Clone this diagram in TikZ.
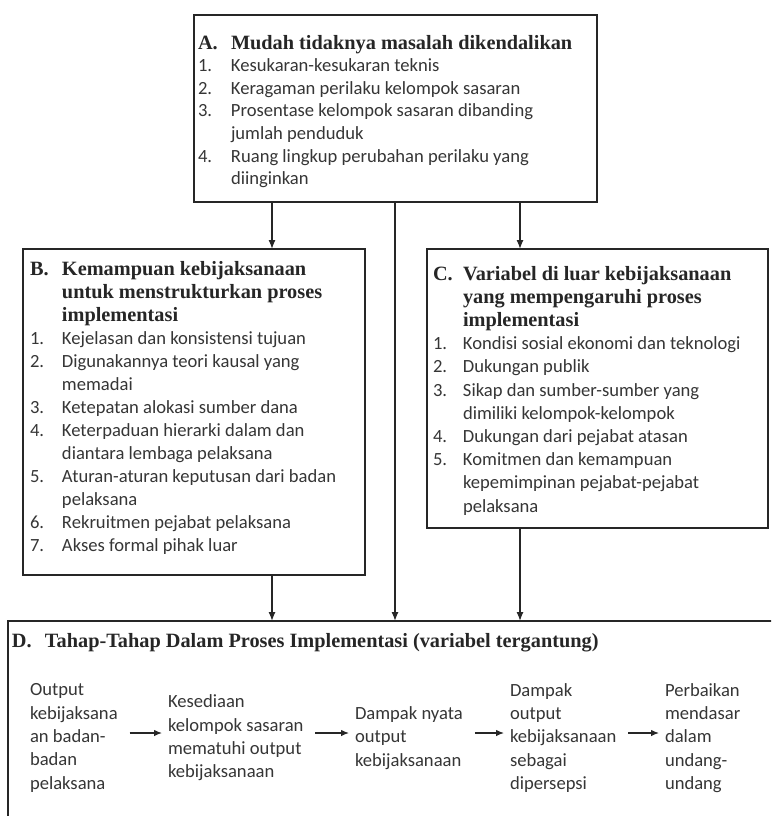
\documentclass[tikz,border=0pt]{standalone}
\usepackage{fontspec}
\setmainfont{Carlito}
\newfontfamily\serifbf{Liberation Serif}
\usetikzlibrary{arrows.meta,calc}
\definecolor{ink}{HTML}{262626}
\definecolor{txt}{HTML}{363636}
\newcommand\ttl{\serifbf\bfseries\fontsize{20.3}{23}\selectfont\color{ink}}
\newlength\numw
\newcommand\nm[1]{\makebox[\numw][l]{#1}}
\tikzset{
  box/.style={draw=ink, line width=1.3pt, inner sep=0pt, outer sep=0pt, anchor=north west},
  txtnode/.style={inner sep=0pt, outer sep=0pt, text=txt, anchor=base west},
  col/.style={inner sep=0pt, outer sep=0pt, text=txt, anchor=west, align=left,
    font=\fontsize{18.6}{23.3}\selectfont},
  arr/.style={draw=ink, line width=1.3pt, -{Latex[length=9pt,width=7pt]}},
  harr/.style={draw=ink, line width=1.2pt, -{Latex[length=8pt,width=6.5pt]},
    shorten <=12pt, shorten >=6pt}
}
\begin{document}
\begin{tikzpicture}[x=1pt,y=-1pt]
\useasboundingbox[fill=white] (0,0) rectangle (771,816);
\clip (0,0) rectangle (771,816);

% boxes
\node[box, minimum width=403pt, minimum height=187pt] (A) at (194,15) {};
\node[box, minimum width=342pt, minimum height=326pt] (B) at (23,249) {};
\node[box, minimum width=341pt, minimum height=279pt] (C) at (427,249) {};
\node[box, minimum width=900pt, minimum height=300pt] (D) at (8,621) {};

% box A text
\node[txtnode, font=\fontsize{18.6}{22.6}\selectfont] (At) at (198,49) {%
\setlength\numw{33pt}%
\begin{tabular}[t]{@{}l@{}l@{}}
\nm{\ttl A.} & \ttl Mudah tidaknya masalah dikendalikan\\
\nm{1.} & Kesukaran-kesukaran teknis\\
\nm{2.} & Keragaman perilaku kelompok sasaran\\
\nm{3.} & Prosentase kelompok sasaran dibanding\\
        & jumlah penduduk\\
\nm{4.} & Ruang lingkup perubahan perilaku yang\\
        & diinginkan
\end{tabular}};

% box B text
\node[txtnode, font=\fontsize{18.6}{23}\selectfont] (Bt) at (30,275) {%
\setlength\numw{32pt}%
\begin{tabular}[t]{@{}l@{}l@{}}
\nm{\ttl B.} & \ttl Kemampuan kebijaksanaan\\
             & \ttl untuk menstrukturkan proses\\
             & \ttl implementasi\\
\nm{1.} & Kejelasan dan konsistensi tujuan\\
\nm{2.} & Digunakannya teori kausal yang\\
        & memadai\\
\nm{3.} & Ketepatan alokasi sumber dana\\
\nm{4.} & Keterpaduan hierarki dalam dan\\
        & diantara lembaga pelaksana\\
\nm{5.} & Aturan-aturan keputusan dari badan\\
        & pelaksana\\
\nm{6.} & Rekruitmen pejabat pelaksana\\
\nm{7.} & Akses formal pihak luar
\end{tabular}};

% box C text
\node[txtnode, font=\fontsize{18.6}{23.2}\selectfont] (Ct) at (433,280) {%
\setlength\numw{30pt}%
\begin{tabular}[t]{@{}l@{}l@{}}
\nm{\ttl C.} & \ttl Variabel di luar kebijaksanaan\\
             & \ttl yang mempengaruhi proses\\
             & \ttl implementasi\\
\nm{1.} & Kondisi sosial ekonomi dan teknologi\\
\nm{2.} & Dukungan publik\\
\nm{3.} & Sikap dan sumber-sumber yang\\
        & dimiliki kelompok-kelompok\\
\nm{4.} & Dukungan dari pejabat atasan\\
\nm{5.} & Komitmen dan kemampuan\\
        & kepemimpinan pejabat-pejabat\\
        & pelaksana
\end{tabular}};

% box D title
\node[txtnode] (Dt) at (12,647) {\ttl\makebox[33pt][l]{D.}Tahap-Tahap Dalam Proses Implementasi (variabel tergantung)};

% D columns
\node[col] (d1) at (30,738) {Output\\kebijaksana\\an badan-\\badan\\pelaksana};
\node[col] (d2) at (168,738) {Kesediaan\\kelompok sasaran\\mematuhi output\\kebijaksanaan};
\node[col] (d3) at (355,738) {Dampak nyata\\output\\kebijaksanaan};
\node[col] (d4) at (510,738) {Dampak\\output\\kebijaksanaan\\sebagai\\dipersepsi};
\node[col] (d5) at (665,738) {Perbaikan\\mendasar\\dalam\\undang-\\undang};

% D arrows
\draw[harr] ([yshift=5pt]d1.east) -- ([yshift=5pt]d2.west);
\draw[harr] ([yshift=5pt]d2.east) -- ([yshift=5pt]d3.west);
\draw[harr] ([yshift=5pt]d3.east) -- ([yshift=5pt]d4.west);
\draw[harr] ([yshift=5pt]d4.east) -- ([yshift=5pt]d5.west);

% vertical arrows
\draw[arr] ($(A.south west)+(78,0)$) coordinate (pAB) -- (pAB |- B.north);
\draw[arr] ($(A.south west)+(326,0)$) coordinate (pAC) -- (pAC |- C.north);
\draw[arr] ($(A.south west)+(201,0)$) coordinate (pAD) -- (pAD |- D.north);
\draw[arr] ($(B.south west)+(249,0)$) coordinate (pBD) -- (pBD |- D.north);
\draw[arr] ($(C.south west)+(93,0)$) coordinate (pCD) -- (pCD |- D.north);
\end{tikzpicture}
\end{document}
